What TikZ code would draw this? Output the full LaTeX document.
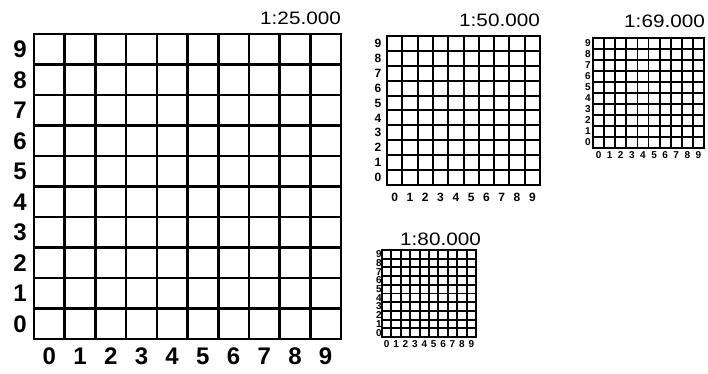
\documentclass[tikz,border=0pt]{standalone}
\usepackage{fontspec}
\setmainfont{Liberation Sans}
\usetikzlibrary{positioning}

\begin{document}
\begin{tikzpicture}[x=1pt, y=-1pt,
        gridline/.style={draw, line width=#1, line cap=rect, line join=miter},
        ticklabel/.style={font=\bfseries\fontsize{#1}{#1}\selectfont, inner sep=0pt},
        scaletitle/.style={font=\fontsize{18}{18}\selectfont, inner sep=0pt, anchor=base east}]
    \useasboundingbox (0,0) rectangle (708,374);

    % name / left / top / width / height / line width / label size / row labels x / column labels y / title x / title y / scale
    \foreach \n/\gx/\gy/\gw/\gh/\lw/\fs/\lx/\ly/\tx/\ty/\scl in {
            a/34/34/307/305/2.6/24/20/356/341/25/1:25.000,
            b/387/36/153/149/2.0/12/378/197/540/27/1:50.000,
            c/593/38/111/110/1.8/10/588/155/705/28/1:69.000,
            d/382/250/94/87/1.9/10/379/344/481/245/1:80.000}
    {
        \node (title-\n) [scaletitle] at (\tx,\ty) {\scalebox{1.15}[1]{\scl}};
        \draw[gridline=\lw] (\gx,\gy) rectangle (\gx+\gw,\gy+\gh);
        \foreach \i in {1,...,9} {
            \draw[gridline=\lw] (\gx+\i*\gw/10,\gy) -- (\gx+\i*\gw/10,\gy+\gh);
            \draw[gridline=\lw] (\gx,\gy+\i*\gh/10) -- (\gx+\gw,\gy+\i*\gh/10);
        }
        \foreach \i in {0,...,9} {
            \node (row-\n\i) [ticklabel=\fs] at (\lx,\gy+\gh-\i*\gh/10-\gh/20) {\i};
            \node (col-\n\i) [ticklabel=\fs] at (\gx+\i*\gw/10+\gw/20,\ly) {\i};
        }
    }
\end{tikzpicture}
\end{document}
